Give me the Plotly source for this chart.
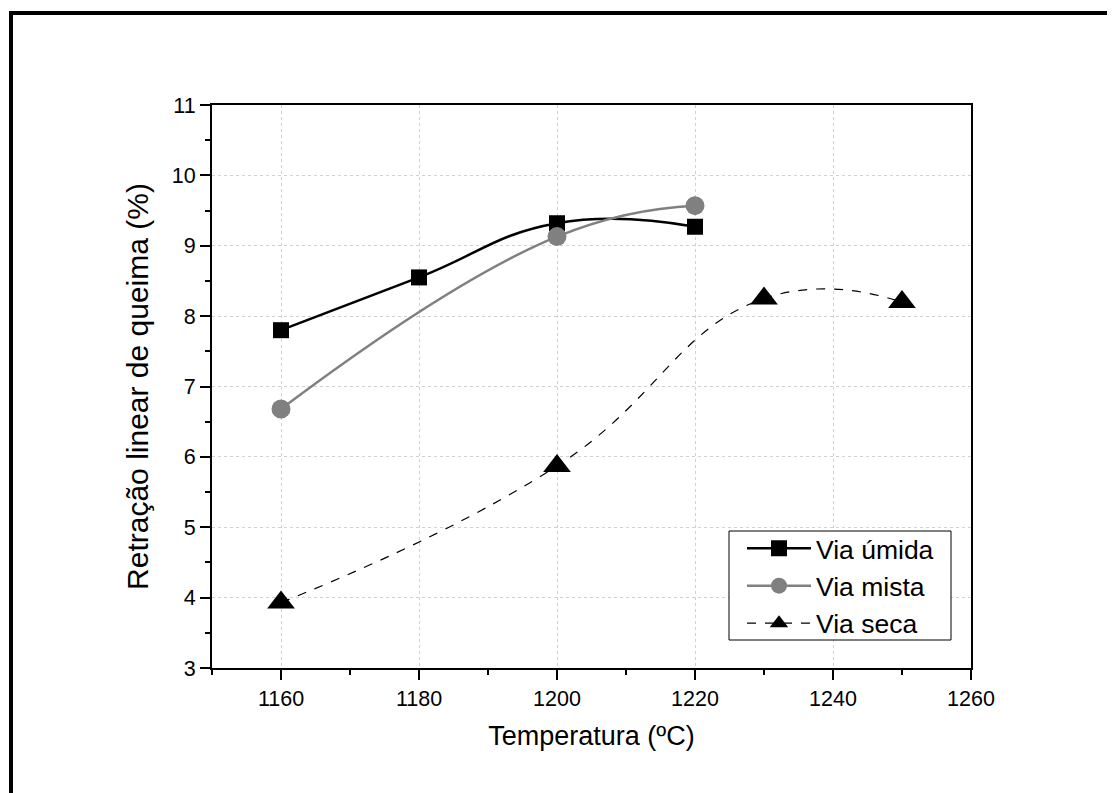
import plotly.graph_objects as go

# Data
x_umida = [1160, 1180, 1200, 1220]
y_umida = [7.80, 8.55, 9.32, 9.27]
x_mista = [1160, 1200, 1220]
y_mista = [6.68, 9.13, 9.57]
x_seca = [1160, 1200, 1230, 1250]
y_seca = [3.93, 5.87, 8.25, 8.20]

x_ticks = [1160, 1180, 1200, 1220, 1240, 1260]
y_ticks = [3, 4, 5, 6, 7, 8, 9, 10, 11]

FONT = "Liberation Sans, Arial, sans-serif"

fig = go.Figure()
fig.add_trace(go.Scatter(
    x=x_umida, y=y_umida, name="Via úmida", mode="lines+markers",
    line=dict(color="black", width=2.5, shape="spline", smoothing=1.3),
    marker=dict(symbol="square", size=16, color="black")))
fig.add_trace(go.Scatter(
    x=x_mista, y=y_mista, name="Via mista", mode="lines+markers",
    line=dict(color="#808080", width=2.5, shape="spline", smoothing=1.3),
    marker=dict(symbol="circle", size=19, color="#808080")))
fig.add_trace(go.Scatter(
    x=x_seca, y=y_seca, name="Via seca", mode="lines+markers",
    line=dict(color="black", width=1.2, dash="dash", shape="spline", smoothing=1.3),
    marker=dict(symbol="triangle-up", size=24, color="black")))

OFF = 8  # page body margin
W, H = 1115 - OFF, 793 - OFF
L, R, T, B = 212 - OFF, 1115 - 971, 105 - OFF, 793 - 668
pw, ph = W - L - R, H - T - B

def px(x):
    return (x - OFF - L) / pw

def py(y):
    return (H - B - (y - OFF)) / ph

# outer frame
fig.add_shape(type="line", xref="paper", yref="paper",
              x0=px(11), x1=px(1125), y0=py(13), y1=py(13),
              line=dict(color="black", width=4))
fig.add_shape(type="line", xref="paper", yref="paper",
              x0=px(11), x1=px(11), y0=py(11), y1=py(810),
              line=dict(color="black", width=4))
# legend box
fig.add_shape(type="rect", xref="paper", yref="paper", layer="above",
              x0=px(729), x1=px(951), y0=py(531), y1=py(640),
              line=dict(color="black", width=1), fillcolor="white")

fig.update_layout(
    width=W, height=H,
    margin=dict(l=L, r=R, t=T, b=B),
    paper_bgcolor="white", plot_bgcolor="white",
    font=dict(family=FONT, color="black"),
    showlegend=True,
    legend=dict(x=px(742), y=py(586), xanchor="left", yanchor="middle",
                bgcolor="rgba(0,0,0,0)", borderwidth=0,
                font=dict(size=26.5, family=FONT), itemwidth=64,
                tracegroupgap=0),
)
fig.update_xaxes(
    range=[1150, 1260], tickvals=x_ticks, ticktext=[str(v) for v in x_ticks],
    ticks="outside", ticklen=10, tickwidth=2, tickcolor="black",
    minor=dict(ticks="outside", ticklen=5, tickwidth=2, tickcolor="black",
               tickvals=[1150, 1170, 1190, 1210, 1230, 1250], showgrid=False),
    showline=True, linecolor="black", linewidth=2, mirror=True,
    showgrid=True, gridcolor="#d0d0d0", gridwidth=1, griddash="dot",
    zeroline=False, tickfont=dict(size=21.5, family=FONT),
    title=dict(text="Temperatura (ºC)", font=dict(size=27, family=FONT), standoff=16),
)
fig.update_yaxes(
    range=[3, 11], tickvals=y_ticks, ticktext=[str(v) for v in y_ticks],
    ticks="outside", ticklen=10, tickwidth=2, tickcolor="black",
    minor=dict(ticks="outside", ticklen=5, tickwidth=2, tickcolor="black",
               tickvals=[3.5, 4.5, 5.5, 6.5, 7.5, 8.5, 9.5, 10.5], showgrid=False),
    showline=True, linecolor="black", linewidth=2, mirror=True,
    showgrid=True, gridcolor="#d0d0d0", gridwidth=1, griddash="dot",
    zeroline=False, tickfont=dict(size=21.5, family=FONT),
    title=dict(text="Retração linear de queima (%)", font=dict(size=30, family=FONT), standoff=14),
)

fig.write_html("out.html")
